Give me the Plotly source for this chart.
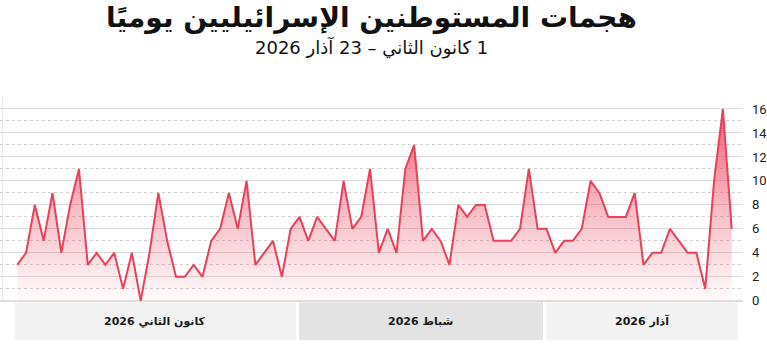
import plotly.graph_objects as go
import pandas as pd

# ---- data ----
start_date = "2026-01-01"
end_date = "2026-03-23"
attacks = [3, 4, 8, 5, 9, 4, 8, 11, 3, 4, 3, 4, 1, 4, 0, 4, 9, 5, 2, 2, 3,
           2, 5, 6, 9, 6, 10, 3, 4, 5, 2, 6, 7, 5, 7, 6, 5, 10, 6, 7, 11, 4, 6,
           4, 11, 13, 5, 6, 5, 3, 8, 7, 8, 8, 5, 5, 5, 6, 11, 6, 6, 4, 5, 5,
           6, 10, 9, 7, 7, 7, 9, 3, 4, 4, 6, 5, 4, 4, 1, 10, 16, 6]
month_labels = ["كانون الثاني 2026", "شباط 2026", "آذار 2026"]
month_days = [31, 28, 23]
y_ticks = [0, 2, 4, 6, 8, 10, 12, 14, 16]

title_text = "هجمات المستوطنين الإسرائيليين يوميًا"
subtitle_text = "1 كانون الثاني – 23 آذار 2026"

RLE, PDF = "\u202B", "\u202C"


def rtl(s):
    return RLE + s + PDF


dates = pd.date_range(start_date, end_date)
x_idx = list(range(len(dates)))

W, H = 767, 344
ML, MR, MT, MB = 0, 20, 97.3, 38.5
plot_h = H - MT - MB
plot_bottom = H - MB


def py(pixel):
    return (plot_bottom - pixel) / plot_h


fig = go.Figure()
fig.add_trace(go.Scatter(
    x=x_idx, y=attacks,
    mode="lines",
    line=dict(color="#e8415a", width=2),
    fill="tozeroy",
    fillgradient=dict(type="vertical", start=0, stop=16,
                      colorscale=[[0, "rgba(236,70,95,0.02)"],
                                  [0.5, "rgba(236,70,95,0.38)"],
                                  [1, "rgba(236,70,95,0.88)"]]),
    customdata=[d.strftime("%Y-%m-%d") for d in dates],
    hovertemplate="%{customdata}: %{y}<extra></extra>",
    showlegend=False,
))

# month bands below the axis
shapes = []
annotations = []
band_colors = ["#f3f3f3", "#e3e3e3", "#f3f3f3"]
cum = 0
prev_edge = None
y_top = py(302.7)
y_bot = py(340.7)
for k, (lab, nd) in enumerate(zip(month_labels, month_days)):
    x0 = -0.26 if prev_edge is None else prev_edge + 0.35
    cum += nd
    x1 = cum + 0.6 if k < len(month_days) - 1 else cum - 1 + 0.7
    prev_edge = x1
    shapes.append(dict(type="rect", xref="x", yref="paper", x0=x0, x1=x1,
                       y0=y_bot, y1=y_top, fillcolor=band_colors[k],
                       line=dict(width=0), layer="below"))
    annotations.append(dict(x=(x0 + x1) / 2, xref="x", y=(y_top + y_bot) / 2,
                            yref="paper", text="<b>" + rtl(lab) + "</b>", showarrow=False,
                            font=dict(family="DejaVu Sans", size=11, color="#1a1a1a"),
                            xanchor="center", yanchor="middle"))

# left border line
shapes.append(dict(type="line", xref="paper", yref="paper", x0=0.003, x1=0.003,
                   y0=py(301), y1=py(96.7), line=dict(color="#e4e4e4", width=1), layer="below"))

annotations.append(dict(x=0.5, xref="paper", y=py(48), yref="paper",
                        text=rtl(subtitle_text), showarrow=False,
                        font=dict(family="DejaVu Sans", size=18, color="#111"),
                        xanchor="center", yanchor="middle"))

fig.update_layout(
    width=W, height=H,
    margin=dict(l=ML, r=MR, t=MT, b=MB, pad=0),
    paper_bgcolor="white", plot_bgcolor="white",
    title=dict(text="<b>" + rtl(title_text) + "</b>", x=0.5, xref="paper", xanchor="center",
               y=1 - 17 / H, yref="container", yanchor="middle",
               font=dict(family="DejaVu Sans", size=28, color="#111")),
    shapes=shapes, annotations=annotations,
    hovermode="closest",
)
fig.update_xaxes(range=[-1.951, 82.28], showgrid=False, zeroline=False,
                 showticklabels=False, ticks="", fixedrange=True)
fig.update_yaxes(range=[-0.35, 17.0], side="right", tickvals=y_ticks,
                 showgrid=True, gridcolor="#d9d9d9", gridwidth=1,
                 zeroline=True, zerolinecolor="#dedede", zerolinewidth=2,
                 minor=dict(dtick=1, tick0=0, showgrid=True, gridcolor="#d0d0d0",
                            griddash="dot", gridwidth=1),
                 ticks="", ticklabelstandoff=8,
                 tickfont=dict(family="Roboto", size=13, color="#222"),
                 fixedrange=True)

fig.write_html("out.html")
